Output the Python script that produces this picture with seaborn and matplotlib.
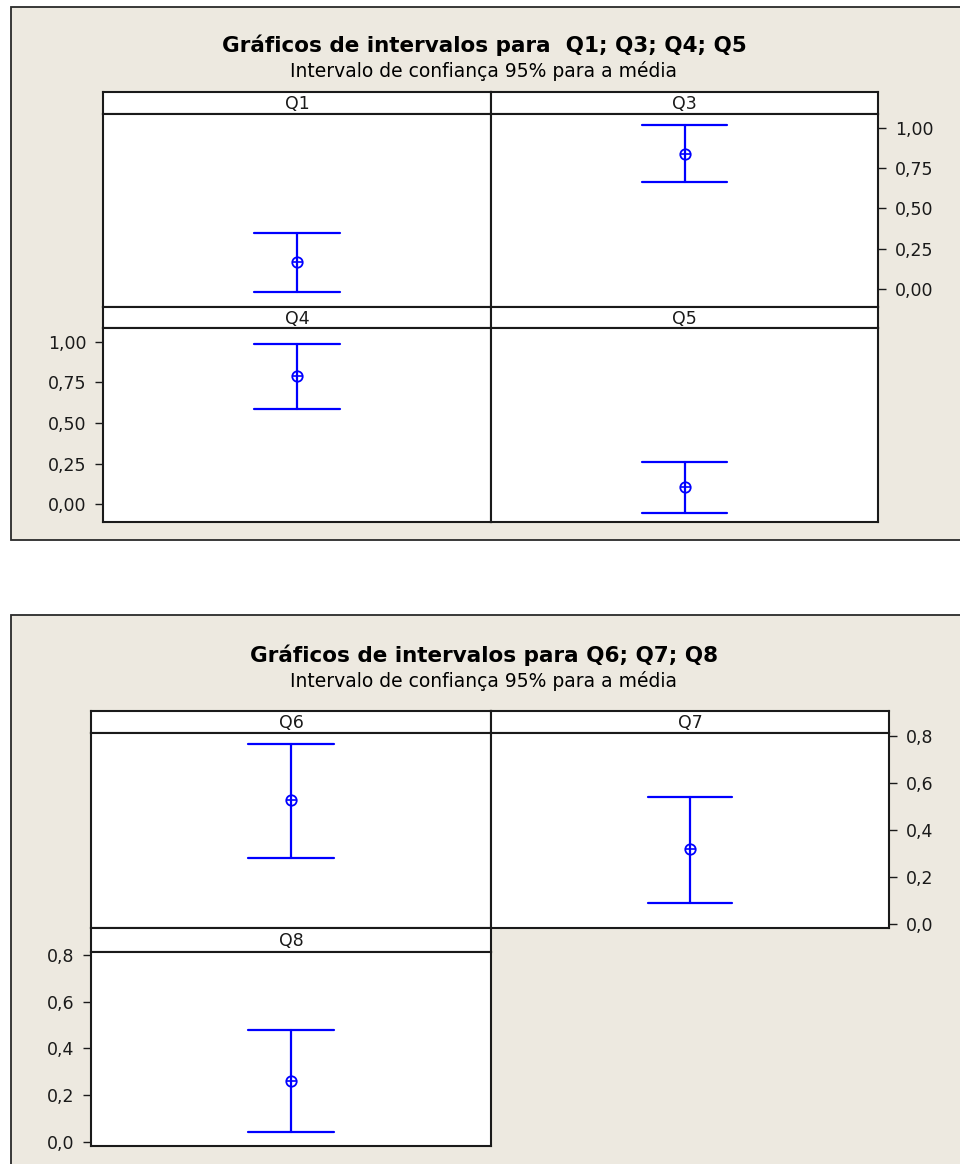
import numpy as np
import pandas as pd
import matplotlib
matplotlib.use("Agg")
import matplotlib.pyplot as plt
from matplotlib.patches import Rectangle
from matplotlib.ticker import FuncFormatter, FixedLocator
import seaborn as sns

# ---------------- data ----------------
top_questions = ["Q1", "Q3", "Q4", "Q5"]
top_lower = [-0.017, 0.666, 0.587, -0.055]
top_mean = [0.168, 0.838, 0.791, 0.105]
top_upper = [0.347, 1.019, 0.986, 0.257]
top_ticks = [0.00, 0.25, 0.50, 0.75, 1.00]

bottom_questions = ["Q6", "Q7", "Q8"]
bottom_lower = [0.278, 0.086, 0.043]
bottom_mean = [0.528, 0.318, 0.261]
bottom_upper = [0.765, 0.542, 0.477]
bottom_ticks = [0.0, 0.2, 0.4, 0.6, 0.8]

top_title = "Gráficos de intervalos para  Q1; Q3; Q4; Q5"
bottom_title = "Gráficos de intervalos para Q6; Q7; Q8"
subtitle = "Intervalo de confiança 95% para a média"

# ---------------- style ----------------
sns.set_style("white")
plt.rcParams["font.family"] = ["DejaVu Sans"]

W, H = 960, 1164
fig = plt.figure(figsize=(W / 100, H / 100), dpi=100)
fig.patch.set_facecolor("white")

BG = "#EDE9E0"
BLUE = "#0000FF"
DARK = "#1a1a1a"


def px_axes(x0, y0, x1, y1, **kw):
    return fig.add_axes([x0 / W, 1 - y1 / H, (x1 - x0) / W, (y1 - y0) / H], **kw)


def panel_bg(x0, y0, x1, y1):
    fig.patches.append(Rectangle((x0 / W, 1 - y1 / H), (x1 - x0) / W, (y1 - y0) / H,
                                 transform=fig.transFigure, facecolor=BG,
                                 edgecolor="#2a2a2a", linewidth=1.3, zorder=-5))


def header(x0, y0, x1, y1, label):
    ax = px_axes(x0, y0, x1, y1)
    ax.set_facecolor("white")
    ax.set_xticks([])
    ax.set_yticks([])
    for s in ax.spines.values():
        s.set_color(DARK)
        s.set_linewidth(1.5)
    ax.text(0.5, 0.45, label, ha="center", va="center", fontsize=12.5, color=DARK,
            transform=ax.transAxes)
    return ax


def interval_plot(box, q, lo, mid, hi, ylim, capsize, side, ticks, fmt):
    x0, y0, x1, y1 = box
    ax = px_axes(x0, y0, x1, y1)
    ax.set_facecolor("white")
    df = pd.DataFrame({"q": [q, q, q], "v": [lo, mid, hi]})
    sns.pointplot(data=df, x="q", y="v", estimator="median", errorbar=("pi", 100),
                  capsize=capsize, color=BLUE, markers="o", linestyles="none",
                  err_kws={"linewidth": 1.6, "color": BLUE},
                  markersize=7.5, markerfacecolor="none", markeredgecolor=BLUE,
                  markeredgewidth=1.3, ax=ax)
    sns.pointplot(data=df, x="q", y="v", estimator="median", errorbar=None,
                  color=BLUE, markers="+", linestyles="none",
                  markersize=7.5, markeredgewidth=1.2, ax=ax)
    ax.set_xlim(-0.5, 0.5)
    ax.set_ylim(*ylim)
    ax.set_xticks([])
    ax.set_xlabel("")
    ax.set_ylabel("")
    for s in ax.spines.values():
        s.set_visible(True)
        s.set_color(DARK)
        s.set_linewidth(1.5)
    if side is None:
        ax.set_yticks([])
    else:
        ax.yaxis.set_major_locator(FixedLocator(ticks))
        ax.yaxis.set_major_formatter(FuncFormatter(lambda v, p: fmt.format(v).replace(".", ",")))
        if side == "right":
            ax.yaxis.tick_right()
        else:
            ax.yaxis.tick_left()
        ax.tick_params(axis="y", direction="out", length=6, width=1, pad=6,
                       labelsize=12.5, colors=DARK)
    return ax


# ---------------- top panel ----------------
panel_bg(11, 7, 975, 540)
fig.text(484 / W, 1 - 45 / H, top_title, ha="center", va="center",
         fontsize=15.5, fontweight="bold", color="black")
fig.text(484 / W, 1 - 71 / H, subtitle, ha="center", va="center",
         fontsize=13.5, color="black")

tx = [(103, 491), (491, 878), (103, 491), (491, 878)]
ty = [(92, 114, 307), (92, 114, 307), (307, 328, 522), (307, 328, 522)]
tside = [None, "right", "left", None]
top_ylim = (-0.11, 1.085)
for i, q in enumerate(top_questions):
    (xa, xb), (ha_, hb, pb) = tx[i], ty[i]
    header(xa, ha_, xb, hb, q)
    interval_plot((xa, hb, xb, pb), q, top_lower[i], top_mean[i], top_upper[i],
                  top_ylim, 0.222, tside[i], top_ticks, "{:.2f}")

# ---------------- bottom panel ----------------
panel_bg(11, 615, 975, 1180)
fig.text(484 / W, 1 - 655 / H, bottom_title, ha="center", va="center",
         fontsize=15.5, fontweight="bold", color="black")
fig.text(484 / W, 1 - 681 / H, subtitle, ha="center", va="center",
         fontsize=13.5, color="black")

bx = [(91, 491), (491, 889), (91, 491)]
by = [(711, 733, 928), (711, 733, 928), (928, 952, 1146)]
bside = [None, "right", "left"]
bottom_ylim = (-0.019, 0.813)
for i, q in enumerate(bottom_questions):
    (xa, xb), (ha_, hb, pb) = bx[i], by[i]
    header(xa, ha_, xb, hb, q)
    interval_plot((xa, hb, xb, pb), q, bottom_lower[i], bottom_mean[i], bottom_upper[i],
                  bottom_ylim, 0.213, bside[i], bottom_ticks, "{:.1f}")

fig.savefig("out.png", dpi=100)
